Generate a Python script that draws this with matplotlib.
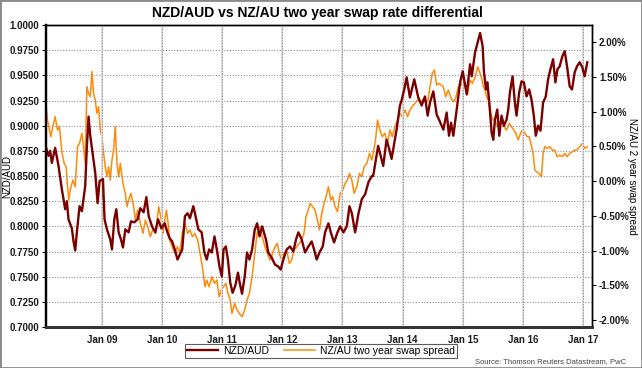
import matplotlib
matplotlib.use("Agg")
import matplotlib.pyplot as plt  # noqa: E402
from matplotlib.patches import Rectangle  # noqa: E402

plt.rcParams["font.family"] = ["Liberation Sans", "DejaVu Sans"]

# NZD/AUD exchange rate (time as fractional year)
nzd_t = [
    2008.072, 2008.111, 2008.139, 2008.167, 2008.222, 2008.278, 2008.333, 2008.389,
    2008.417, 2008.444, 2008.500, 2008.528, 2008.556, 2008.583, 2008.628, 2008.667,
    2008.722, 2008.750, 2008.778, 2008.806, 2008.850, 2008.889, 2008.928, 2008.961,
    2009.017, 2009.044, 2009.083, 2009.139, 2009.167, 2009.206, 2009.239, 2009.278,
    2009.317, 2009.350, 2009.389, 2009.444, 2009.483, 2009.539, 2009.594, 2009.639,
    2009.694, 2009.739, 2009.778, 2009.833, 2009.889,
    2009.933, 2009.989, 2010.045, 2010.089, 2010.128, 2010.168, 2010.212, 2010.257,
    2010.296, 2010.335, 2010.380, 2010.425, 2010.464, 2010.520, 2010.547, 2010.603,
    2010.659, 2010.704, 2010.743, 2010.782, 2010.827, 2010.872, 2010.911, 2010.955,
    2010.994, 2011.022, 2011.061, 2011.095, 2011.134, 2011.173, 2011.218, 2011.263,
    2011.291, 2011.330, 2011.374, 2011.413, 2011.453, 2011.497, 2011.542, 2011.581,
    2011.620, 2011.665,
    2011.728, 2011.767, 2011.822, 2011.878, 2011.933, 2011.972, 2012.017, 2012.072,
    2012.128, 2012.183, 2012.228, 2012.267, 2012.322, 2012.378, 2012.433, 2012.489,
    2012.528, 2012.572, 2012.617, 2012.672, 2012.711, 2012.767, 2012.806, 2012.861,
    2012.917, 2012.961, 2013.017, 2013.072, 2013.117, 2013.156, 2013.211, 2013.267,
    2013.322, 2013.378, 2013.433, 2013.489,
    2013.511, 2013.594, 2013.678, 2013.733, 2013.772, 2013.817, 2013.900, 2013.956,
    2013.983, 2014.028, 2014.067, 2014.122, 2014.194, 2014.261, 2014.317, 2014.372,
    2014.417, 2014.456, 2014.511, 2014.567, 2014.606, 2014.678, 2014.733, 2014.772,
    2014.806, 2014.844, 2014.900, 2014.956, 2015.000, 2015.067, 2015.122, 2015.150,
    2015.206, 2015.289,
    2015.331, 2015.354, 2015.387, 2015.409, 2015.442, 2015.481, 2015.508, 2015.536,
    2015.575, 2015.608, 2015.646, 2015.685, 2015.729, 2015.757, 2015.785, 2015.829,
    2015.867, 2015.895, 2015.939, 2015.978, 2016.017, 2016.061, 2016.105, 2016.144,
    2016.182, 2016.215, 2016.254, 2016.293, 2016.337, 2016.381, 2016.420, 2016.459,
    2016.503, 2016.541, 2016.575, 2016.613, 2016.657, 2016.696, 2016.735, 2016.779,
    2016.818, 2016.862, 2016.901, 2016.945, 2016.989, 2017.028, 2017.072,
]
nzd_val = [
    0.878, 0.870, 0.875, 0.863, 0.878, 0.860, 0.837, 0.817,
    0.825, 0.807, 0.798, 0.785, 0.776, 0.794, 0.820, 0.815,
    0.840, 0.880, 0.909, 0.890, 0.870, 0.853, 0.823, 0.845,
    0.847, 0.807, 0.797, 0.787, 0.777, 0.807, 0.817, 0.794,
    0.787, 0.779, 0.797, 0.794, 0.805, 0.804, 0.807, 0.818,
    0.814, 0.829, 0.810, 0.800, 0.794,
    0.807, 0.798, 0.803, 0.794, 0.788, 0.785, 0.777, 0.767,
    0.772, 0.777, 0.810, 0.813, 0.808, 0.820, 0.813, 0.797,
    0.794, 0.774, 0.767, 0.777, 0.774, 0.790, 0.777, 0.760,
    0.750, 0.777, 0.780, 0.767, 0.744, 0.734, 0.741, 0.754,
    0.744, 0.733, 0.750, 0.774, 0.767, 0.777, 0.797, 0.803,
    0.790, 0.800,
    0.787, 0.774, 0.769, 0.762, 0.760, 0.757, 0.767, 0.777,
    0.780, 0.775, 0.787, 0.794, 0.787, 0.774, 0.780, 0.785,
    0.777, 0.767, 0.774, 0.780, 0.794, 0.803, 0.794, 0.784,
    0.794, 0.800, 0.794, 0.800, 0.820, 0.813, 0.794, 0.813,
    0.827, 0.832, 0.844, 0.850,
    0.850, 0.880, 0.860, 0.886, 0.878, 0.867, 0.896, 0.920,
    0.925, 0.936, 0.948, 0.928, 0.946, 0.928, 0.920, 0.929,
    0.910, 0.923, 0.934, 0.911, 0.906, 0.896, 0.913, 0.890,
    0.903, 0.890, 0.916, 0.943, 0.954, 0.931, 0.961, 0.949,
    0.973, 0.992,
    0.979, 0.953, 0.936, 0.943, 0.923, 0.893, 0.886, 0.906,
    0.916, 0.890, 0.910, 0.900, 0.906, 0.916, 0.933, 0.949,
    0.923, 0.910, 0.933, 0.944, 0.943, 0.929, 0.936, 0.926,
    0.910, 0.890, 0.900, 0.895, 0.923, 0.929, 0.946, 0.956,
    0.966, 0.943, 0.956, 0.959, 0.969, 0.974, 0.959, 0.939,
    0.936, 0.953, 0.959, 0.963, 0.958, 0.949, 0.963,
]

# NZ/AU two year swap spread, percent
swap_t = [
    2008.072, 2008.094, 2008.128, 2008.150, 2008.183, 2008.222, 2008.261, 2008.294,
    2008.333, 2008.372, 2008.406, 2008.428, 2008.450, 2008.472, 2008.517, 2008.556,
    2008.594, 2008.628, 2008.667, 2008.694, 2008.722, 2008.750, 2008.778, 2008.806,
    2008.833, 2008.861, 2008.889, 2008.917, 2008.944, 2008.972, 2009.000, 2009.028,
    2009.056, 2009.083, 2009.111, 2009.139, 2009.167, 2009.194, 2009.222, 2009.250,
    2009.278, 2009.306, 2009.350, 2009.389, 2009.417, 2009.444, 2009.483, 2009.528,
    2009.556, 2009.594, 2009.639, 2009.683, 2009.722, 2009.761, 2009.806, 2009.850,
    2009.889,
    2009.944, 2009.978, 2010.017, 2010.045, 2010.073, 2010.101, 2010.128, 2010.168,
    2010.212, 2010.257, 2010.296, 2010.335, 2010.380, 2010.425, 2010.464, 2010.503,
    2010.547, 2010.592, 2010.631, 2010.670, 2010.715, 2010.743, 2010.782, 2010.827,
    2010.872, 2010.911, 2010.950, 2010.983, 2011.022, 2011.061, 2011.095, 2011.134,
    2011.162, 2011.207, 2011.246, 2011.285, 2011.330, 2011.374, 2011.413, 2011.453,
    2011.497, 2011.542, 2011.581, 2011.620, 2011.665,
    2011.711, 2011.750, 2011.794, 2011.839, 2011.878, 2011.917, 2011.950, 2011.989,
    2012.028, 2012.072, 2012.117, 2012.156, 2012.194, 2012.239, 2012.283, 2012.322,
    2012.361, 2012.394, 2012.433, 2012.461, 2012.506, 2012.544, 2012.583, 2012.617,
    2012.656, 2012.694, 2012.728, 2012.767, 2012.806, 2012.839, 2012.878, 2012.917,
    2012.961, 2013.006, 2013.044, 2013.083, 2013.117, 2013.156, 2013.194, 2013.239,
    2013.283, 2013.322, 2013.361, 2013.406, 2013.450, 2013.489,
    2013.511, 2013.550, 2013.583, 2013.622, 2013.661, 2013.706, 2013.750, 2013.789,
    2013.828, 2013.872, 2013.917, 2013.956, 2013.994, 2014.039, 2014.083, 2014.122,
    2014.161, 2014.206, 2014.250, 2014.289, 2014.328, 2014.372, 2014.417, 2014.456,
    2014.494, 2014.528, 2014.567, 2014.606, 2014.639, 2014.678, 2014.717, 2014.761,
    2014.806, 2014.844, 2014.883, 2014.928, 2014.972, 2015.011, 2015.050, 2015.083,
    2015.122, 2015.161, 2015.206, 2015.250, 2015.289,
    2015.315, 2015.343, 2015.370, 2015.398, 2015.425, 2015.453, 2015.481, 2015.508,
    2015.536, 2015.575, 2015.608, 2015.646, 2015.685, 2015.729, 2015.773, 2015.812,
    2015.851, 2015.884, 2015.923, 2015.961, 2015.994, 2016.033, 2016.072, 2016.105,
    2016.144, 2016.171, 2016.199, 2016.227, 2016.271, 2016.309, 2016.337, 2016.365,
    2016.403, 2016.448, 2016.492, 2016.530, 2016.569, 2016.613, 2016.657, 2016.696,
    2016.735, 2016.779, 2016.823, 2016.862, 2016.901, 2016.945, 2016.989, 2017.028,
    2017.072,
]
swap_pct = [
    1.070, 0.878, 0.734, 0.638, 0.782, 0.926, 0.734, 0.782,
    0.422, 0.254, 0.206, -0.082, -0.273, -0.130, 0.014, -0.082,
    0.494, 0.542, 0.686, 0.494, 0.254, 1.357, 1.261, 1.213,
    1.573, 1.261, 1.165, 0.974, 1.070, 0.734, 0.638, 0.398,
    0.206, 0.062, 0.206, 0.014, 0.302, 0.446, 0.782, 0.254,
    0.062, 0.254, -0.034, -0.177, -0.369, -0.273, -0.177, -0.369,
    -0.561, -0.417, -0.609, -0.753, -0.561, -0.657, -0.801, -0.681,
    -0.753,
    -0.369, -0.513, -0.753, -0.561, -0.417, -0.609, -0.849, -0.945,
    -1.041, -0.945, -1.041, -0.753, -0.609, -0.753, -0.705, -0.801,
    -0.753, -0.849, -1.041, -1.233, -1.520, -1.424, -1.520, -1.376,
    -1.472, -1.424, -1.664, -1.568, -1.520, -1.472, -1.616, -1.712,
    -1.904, -1.760, -1.856, -1.904, -1.952, -1.856, -1.712, -1.616,
    -1.376, -1.041, -0.753, -0.657, -0.801,
    -0.945, -1.041, -1.137, -1.041, -0.945, -0.897, -1.041, -1.137,
    -1.041, -0.993, -1.185, -1.137, -0.993, -0.945, -0.897, -0.849,
    -0.753, -0.513, -0.417, -0.321, -0.369, -0.417, -0.561, -0.705,
    -0.465, -0.321, -0.225, -0.082, -0.273, -0.225, -0.369, -0.441,
    -0.177, -0.130, -0.034, 0.014, 0.110, 0.014, -0.177, -0.082,
    0.110, 0.062, 0.206, 0.254, 0.398, 0.302,
    0.398, 0.590, 0.878, 0.734, 0.638, 0.686, 0.542, 0.734,
    0.638, 0.782, 0.878, 0.974, 0.926, 1.022, 0.926, 1.022,
    1.070, 1.117, 1.165, 1.141, 1.165, 1.189, 1.141, 1.357,
    1.549, 1.597, 1.381, 1.405, 1.381, 1.357, 1.213, 1.309,
    1.189, 1.141, 1.189, 1.357, 1.381, 1.429, 1.357, 1.261,
    1.453, 1.405, 1.501, 1.645, 1.549,
    1.477, 1.357, 1.309, 1.213, 1.165, 1.022, 0.926, 0.878,
    0.878, 0.782, 0.782, 0.878, 0.782, 0.734, 0.830, 0.782,
    0.734, 0.686, 0.590, 0.686, 0.734, 0.686, 0.638, 0.638,
    0.494, 0.398, 0.158, 0.134, 0.110, 0.062, 0.398, 0.494,
    0.470, 0.494, 0.446, 0.446, 0.350, 0.374, 0.350, 0.398,
    0.350, 0.398, 0.422, 0.446, 0.446, 0.494, 0.542, 0.470,
    0.494,
]

years = list(range(2009, 2018))
year_labels = ["Jan %02d" % (y % 100) for y in years]
left_ticks = [0.70 + 0.025 * i for i in range(13)]
right_ticks = [-2.0 + 0.5 * i for i in range(9)]

RED = "#7a0000"
ORANGE = "#ff8a0a"

fig = plt.figure(figsize=(6.42, 3.68), dpi=100)
ax = fig.add_axes([46 / 642, 1 - 327 / 368, 546 / 642, 302 / 368])
ax2 = ax.twinx()

# grid
for v in left_ticks[1:-1]:
    ax.axhline(v, color="#8c8c8c", lw=0.8, ls=(0, (1, 1.5)), zorder=0)
for y in years:
    ax.axvline(y, color="#dedede", lw=1.4, zorder=0)
    ax.axvline(y, color="#8c8c8c", lw=0.8, ls=(0, (1, 1.5)), zorder=0)

ax2.plot(swap_t, swap_pct, color=ORANGE, lw=1.1,
         label="NZ/AU two year swap spread")
ax.plot(nzd_t, nzd_val, color=RED, lw=1.7, label="NZD/AUD")

ax.set_zorder(ax2.get_zorder() + 1)
ax.patch.set_visible(False)

ax.set_xlim(2008.07, 2017.15)
ax.set_ylim(0.70, 1.0)
ax2.set_ylim(-2.10, 2.245)

ax.set_xticks(years)
ax.set_xticklabels(year_labels)
ax.set_yticks(left_ticks)
ax.set_yticklabels(["%.4f" % v for v in left_ticks])
ax2.set_yticks(right_ticks)
ax2.set_yticklabels(["%.2f%%" % v for v in right_ticks])

for lab in ax.get_xticklabels() + ax.get_yticklabels() + ax2.get_yticklabels():
    lab.set_fontsize(7)
    lab.set_fontweight("bold")
    lab.set_color("#1a1a1a")
ax.tick_params(axis="x", length=0, pad=6)
ax.tick_params(axis="y", length=3, width=0.8, pad=2)
ax2.tick_params(axis="y", length=3, width=0.8, pad=2)

for a in (ax, ax2):
    a.spines["top"].set_linewidth(1.0)
    a.spines["right"].set_linewidth(1.0)
    a.spines["left"].set_linewidth(1.6)
    a.spines["bottom"].set_linewidth(2.0)
    a.spines["bottom"].set_color("#333333")

ax.set_ylabel("NZD/AUD", fontsize=7)
ax.yaxis.set_label_coords(-0.062, 0.5)
ax2.set_ylabel("NZ/AU 2 year swap spread", fontsize=7, rotation=270,
               va="center")
ax2.yaxis.set_label_coords(1.073, 0.5)

fig.text(0.495, 1 - 13 / 368, "NZD/AUD vs NZ/AU two year swap rate differential",
         ha="center", va="center", fontsize=10, fontweight="bold")

handles = ax.get_lines()[-1:] + ax2.get_lines()
leg = fig.legend(handles, [h.get_label() for h in handles], ncol=2,
                 loc="center", bbox_to_anchor=(321 / 642, 1 - 351 / 368),
                 fontsize=7.5, frameon=True, fancybox=False,
                 handlelength=3.0, columnspacing=1.4, borderpad=0.2,
                 handletextpad=0.5)
leg.get_frame().set_edgecolor("#333333")
leg.get_frame().set_linewidth(0.8)

fig.text(0.975, 1 - 362 / 368, "Source: Thomson Reuters Datastream, PwC",
         ha="right", va="center", fontsize=5.5, color="#444444")

fig.patches.append(Rectangle((0, 0), 1, 1, transform=fig.transFigure,
                             fill=False, edgecolor="#8a8a8a", lw=2))

fig.savefig("out.png", dpi=100)
